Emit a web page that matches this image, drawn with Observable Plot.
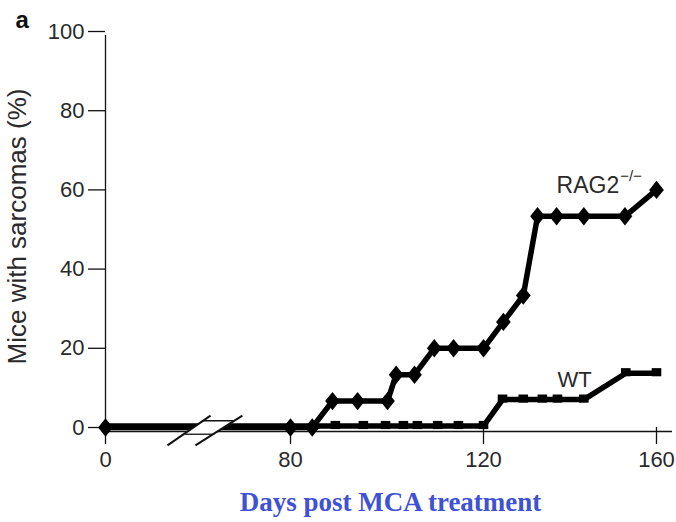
<!DOCTYPE html>
<html>
<head>
<meta charset="utf-8">
<script src="https://cdn.jsdelivr.net/npm/d3@7"></script>
<script src="https://cdn.jsdelivr.net/npm/@observablehq/plot@0.6"></script>
<style>
  html, body { margin: 0; padding: 0; background: #fff; }
  #chart { width: 676px; height: 522px; }
</style>
</head>
<body>
<div id="chart"></div>
<script>
// ---- data ----
const rag2Days = [0, 80, 84.5, 88.7, 93.9, 100.1, 101.9, 105.7, 109.8, 113.8, 120, 124.6, 129.2, 132.5, 136.9, 143.2, 152.7, 160];
const rag2Pct  = [0, 0, 0, 6.67, 6.67, 6.67, 13.33, 13.33, 20, 20, 20, 26.67, 33.33, 53.33, 53.33, 53.33, 53.33, 60];
const wtDays = [0, 89.3, 95.1, 99.7, 103.4, 106.3, 110.5, 114.8, 120, 124.4, 129.2, 133.6, 137.1, 143.2, 152.9, 160];
const wtPct  = [0, 0, 0, 0, 0, 0, 0, 0, 0, 6.67, 6.67, 6.67, 6.67, 6.67, 13.33, 13.33];
const xTicks = [0, 80, 120, 160];
const yTicks = [0, 20, 40, 60, 80, 100];
const seriesLabels = ["RAG2", "WT"];
const superscript = "\u2212/\u2212";
const xTitle = "Days post MCA treatment";
const yTitle = "Mice with sarcomas (%)";
const panelLetter = "a";
// axis break (in data units): two slashes, and the gap between them
const breakSlashes = [
  {x1: 26.8, y1: -4.5, x2: 45.4, y2: 3.0},
  {x1: 38.9, y1: -4.5, x2: 59.2, y2: 3.0}
];
const breakGap = [
  {x: 34.2, y: -1.7}, {x: 41.7, y: 1.7}, {x: 55.2, y: 1.7}, {x: 47.0, y: -1.7}
];
const breakEdges = [
  {x1: 41.7, y1: 1.7, x2: 55.2, y2: 1.7},
  {x1: 34.2, y1: -1.7, x2: 47.0, y2: -1.7}
];

const rag2 = rag2Days.map((d, i) => ({day: d, pct: rag2Pct[i]}));
const wt = wtDays.map((d, i) => ({day: d, pct: wtPct[i]}));

const diamond = {
  draw(ctx, size) {
    const r = Math.sqrt(size / Math.PI);
    const ry = r * 1.15, rx = r * 0.92;
    ctx.moveTo(0, -ry); ctx.lineTo(rx, 0); ctx.lineTo(0, ry); ctx.lineTo(-rx, 0); ctx.closePath();
  }
};
const rectSym = {
  draw(ctx, size) {
    const r = Math.sqrt(size / Math.PI);
    const w = r, h = r * 0.85;
    ctx.rect(-w, -h, 2 * w, 2 * h);
  }
};

const font = "'Liberation Sans', Arial, Helvetica, sans-serif";

const chart = Plot.plot({
  width: 676,
  height: 522,
  marginLeft: 105,
  marginRight: 20,
  marginTop: 31,
  marginBottom: 95,
  style: {fontFamily: font, color: "#222", background: "#fff", overflow: "visible"},
  x: {type: "linear", domain: [0, 80, 120, 160], range: [105, 290, 483, 656]},
  y: {domain: [0, 100]},
  axis: null,
  marks: [
    // axes
    Plot.axisY({ticks: yTicks, tickSize: 17, tickPadding: 4, fontSize: 22, label: null, stroke: "#111", fill: "#2a2a2a", strokeWidth: 1.3}),
    Plot.axisX({ticks: xTicks, tickSize: 17, tickPadding: 7, fontSize: 22, label: null, stroke: "#111", fill: "#2a2a2a", strokeWidth: 1.3}),
    Plot.ruleX([0], {y1: 0, y2: 100, insetBottom: -4, stroke: "#111", strokeWidth: 1.3}),
    Plot.ruleY([0], {x1: 0, x2: 160, insetRight: -16, dy: 4, stroke: "#111", strokeWidth: 1.3}),
    // data
    Plot.line(wt, {x: "day", y: "pct", stroke: "#000", strokeWidth: 5.5, dy: -1.5}),
    Plot.line(rag2, {x: "day", y: "pct", stroke: "#000", strokeWidth: 5.5}),
    Plot.dot(wt.slice(1), {x: "day", y: "pct", symbol: rectSym, r: 4.8, fill: "#000", dy: -2.5}),
    Plot.dot(rag2, {x: "day", y: "pct", symbol: diamond, r: 8, fill: "#000"}),
    // axis break
    Plot.line(breakGap, {x: "x", y: "y", fill: "#fff", stroke: "none"}),
    Plot.link(breakEdges, {x1: "x1", y1: "y1", x2: "x2", y2: "y2", stroke: "#111", strokeWidth: 1.3}),
    Plot.link(breakSlashes, {x1: "x1", y1: "y1", x2: "x2", y2: "y2", stroke: "#111", strokeWidth: 2}),
    // series labels
    Plot.text([seriesLabels[0]], {x: 136.9, y: 61.1, text: d => d, textAnchor: "start", fontSize: 23, fill: "#2a2a2a"}),
    Plot.text([superscript], {x: 151.6, y: 61.1, dy: -9, text: d => d, textAnchor: "start", fontSize: 15, fill: "#2a2a2a"}),
    Plot.text([seriesLabels[1]], {x: 137.1, y: 11.9, text: d => d, textAnchor: "start", fontSize: 22, fill: "#2a2a2a"}),
    // titles
    Plot.text([yTitle], {frameAnchor: "left", dx: -88, dy: -3, rotate: -90, text: d => d, fontSize: 26, letterSpacing: "1.5px", fill: "#2a2a2a", textAnchor: "middle"}),
    Plot.text([xTitle], {frameAnchor: "bottom-left", dx: 285, dy: 83, text: d => d, fontSize: 27, fontWeight: "bold", fontFamily: "'Liberation Serif', 'Times New Roman', serif", fill: "#3f51d4", textAnchor: "middle"}),
    Plot.text([panelLetter], {frameAnchor: "top-left", dx: -90, dy: -21, text: d => d, fontSize: 24, fontWeight: "bold", fill: "#111", textAnchor: "start"})
  ]
});
document.getElementById("chart").appendChild(chart);
</script>
</body>
</html>
